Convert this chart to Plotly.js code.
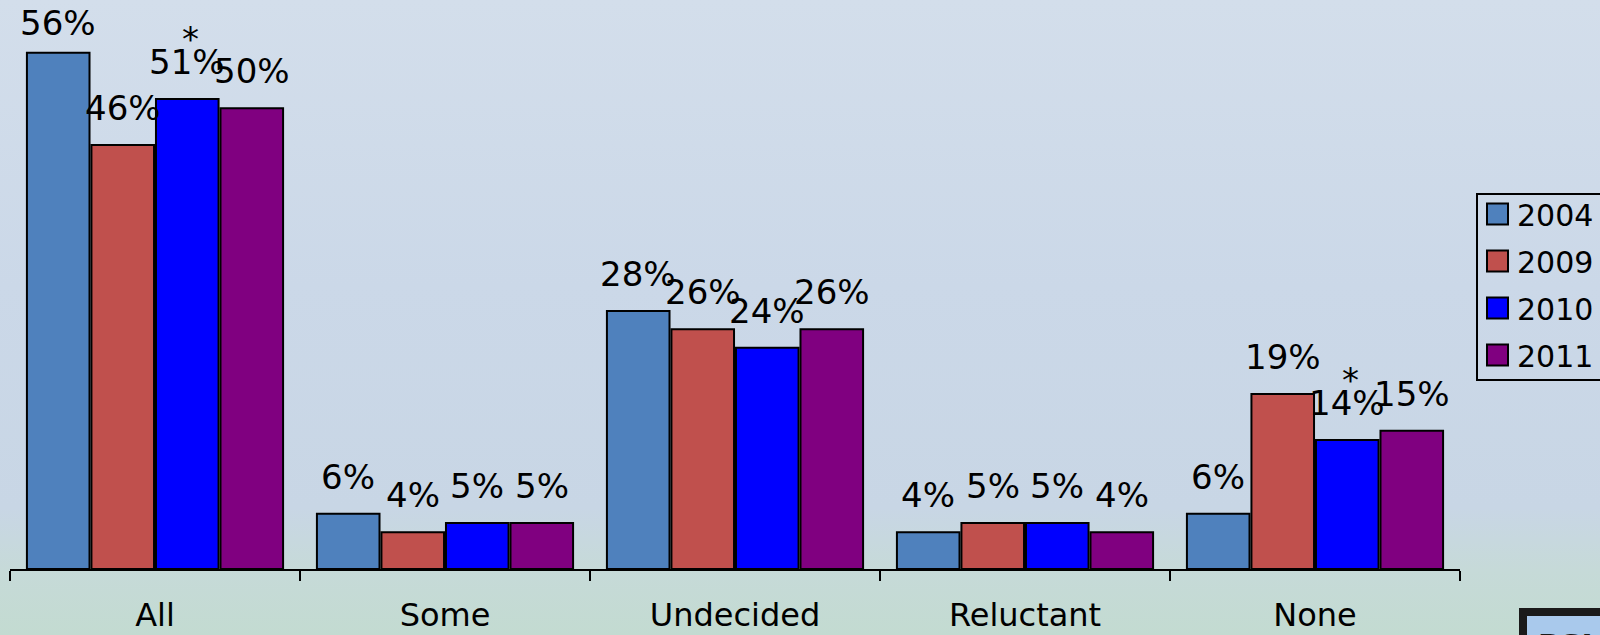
<!DOCTYPE html>
<html>
<head>
<meta charset="utf-8">
<script src="https://cdn.plot.ly/plotly-3.0.1.min.js"></script>
<style>
  html, body { margin:0; padding:0; }
  body {
    width:1600px; height:635px; overflow:hidden;
    background: linear-gradient(to bottom, #d3deeb 0%, #cbd8e8 45%, #c8d6e5 80%, #c6dad8 90%, #c3dbd1 100%);
  }
  #chart { width:1600px; height:635px; }
</style>
</head>
<body>
<div id="chart"></div>
<script>
// ---- data ----
const categories = ['All', 'Some', 'Undecided', 'Reluctant', 'None'];
const seriesNames = ['2004', '2009', '2010', '2011'];
const values2004 = [56, 6, 28, 4, 6];
const values2009 = [46, 4, 26, 5, 19];
const values2010 = [51, 5, 24, 5, 14];
const values2011 = [50, 5, 26, 4, 15];
const marks2010 = ['*', '', '', '', '*'];   // significance markers shown above labels
const seriesColors = ['#4f81bd', '#c0504d', '#0000ff', '#800080'];

const seriesValues = [values2004, values2009, values2010, values2011];
const seriesMarks = [null, null, marks2010, null];

// ---- layout constants ----
const W = 1600, H = 635;
const M = {l: 10, r: 140, t: 16, b: 66};
const plotW = W - M.l - M.r, plotH = H - M.t - M.b;
const yMax = 60;
const bargap = 0.11, bargroupgap = 0.03;
const FONT = 'DejaVu Sans, Verdana, sans-serif';
const LABEL_SIZE = 34;
const pitch = plotW / categories.length * (1 - bargap) / seriesNames.length;

const traces = seriesNames.map((name, i) => ({
  type: 'bar',
  name: name,
  x: categories,
  y: seriesValues[i],
  marker: {color: seriesColors[i], line: {color: '#000', width: 2}},
  hoverinfo: 'x+y+name',
  showlegend: false
}));

const annotations = [];
const shapes = [];
seriesValues.forEach((vals, i) => {
  const xs = (i - (seriesNames.length - 1) / 2) * pitch;
  vals.forEach((v, j) => {
    // keep the label inside the picture when the bar nearly reaches the top
    const barTopPx = M.t + (yMax - v) / yMax * plotH;
    const ys = Math.min(15, barTopPx - LABEL_SIZE * 1.2 - 4);
    annotations.push({
      x: categories[j], y: v, xref: 'x', yref: 'y',
      text: v + '%', showarrow: false, xanchor: 'center', yanchor: 'bottom',
      xshift: xs, yshift: ys,
      font: {family: FONT, size: LABEL_SIZE, color: '#000'}
    });
    if (seriesMarks[i] && seriesMarks[i][j]) {
      annotations.push({
        x: categories[j], y: v, xref: 'x', yref: 'y',
        text: seriesMarks[i][j], showarrow: false, xanchor: 'center', yanchor: 'bottom',
        xshift: xs + 3, yshift: ys + 23,
        font: {family: FONT, size: LABEL_SIZE, color: '#000'}
      });
    }
  });
});

// custom legend (pixel -> paper)
const px = p => (p - M.l) / plotW;
const py = p => (M.t + plotH - p) / plotH;
shapes.push({type: 'rect', xref: 'paper', yref: 'paper',
  x0: px(1477), x1: px(1640), y0: py(380), y1: py(194),
  line: {color: '#000', width: 2}, fillcolor: 'rgba(0,0,0,0)'});
seriesNames.forEach((name, i) => {
  const cy = 214 + i * 47;
  shapes.push({type: 'rect', xref: 'paper', yref: 'paper',
    x0: px(1487), x1: px(1508), y0: py(cy + 10.5), y1: py(cy - 10.5),
    line: {color: '#000', width: 2}, fillcolor: seriesColors[i]});
  annotations.push({xref: 'paper', yref: 'paper', x: px(1515), y: py(cy + 1),
    text: name, showarrow: false, xanchor: 'left', yanchor: 'middle',
    font: {family: FONT, size: 30, color: '#000'}});
});

// partial logo box bottom-right
shapes.push({type: 'rect', xref: 'paper', yref: 'paper',
  x0: px(1523), x1: px(1660), y0: py(680), y1: py(612),
  line: {color: '#1a1a1a', width: 8}, fillcolor: '#a9c9ec'});
annotations.push({xref: 'paper', yref: 'paper', x: px(1536), y: py(626),
  text: '<b>PSI</b>', showarrow: false, xanchor: 'left', yanchor: 'top',
  font: {family: FONT, size: 30, color: '#1a1a1a'}});

const layout = {
  width: W, height: H,
  margin: M,
  paper_bgcolor: 'rgba(0,0,0,0)',
  plot_bgcolor: 'rgba(0,0,0,0)',
  barmode: 'group',
  bargap: bargap,
  bargroupgap: bargroupgap,
  showlegend: false,
  xaxis: {
    type: 'category',
    showline: true, linecolor: '#000', linewidth: 2,
    ticks: 'outside', tickson: 'boundaries', ticklen: 10, tickwidth: 2, tickcolor: '#000',
    showgrid: false, zeroline: false,
    tickfont: {family: FONT, size: 32, color: '#000'},
    ticklabelstandoff: 17
  },
  yaxis: {visible: false, range: [0, yMax], fixedrange: true},
  annotations: annotations,
  shapes: shapes
};

Plotly.newPlot('chart', traces, layout, {displayModeBar: false, staticPlot: true});
</script>
</body>
</html>
